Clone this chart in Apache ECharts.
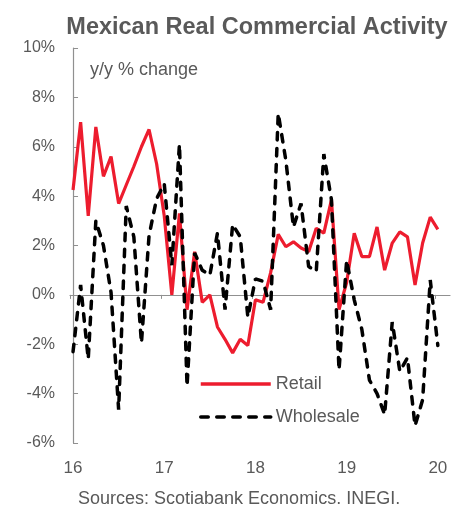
<!DOCTYPE html>
<html>
<head>
<meta charset="utf-8">
<script src="https://cdn.jsdelivr.net/npm/echarts@6/dist/echarts.min.js"></script>
<style>
  html, body { margin: 0; padding: 0; background: #fff; }
  #chart { width: 463px; height: 508px; }
</style>
</head>
<body>
<div id="chart"></div>
<script>
// Monthly y/y % change, Jan 2016 .. Jan 2020 (index 0 = Jan 2016)
const retail = [
  4.25, 7.0, 3.2, 6.8, 4.8, 5.6, 3.7, 4.45, 5.2, 6.0, 6.7, 5.3,
  3.2, 0.0, 3.3, -0.6, 1.75, -0.3, 0.0, -1.3, -1.8, -2.35, -1.8, -2.05,
  -0.2, -0.3, 0.9, 2.45, 1.95, 2.15, 1.9, 1.75, 2.7, 2.5, 3.85, -0.6,
  0.5, 2.5, 1.55, 1.55, 2.75, 1.0, 2.1, 2.55, 2.35, 0.4, 2.1, 3.15, 2.65
];
const wholesale = [
  -2.3, 0.4, -2.6, 3.0, 2.0, 0.1, -4.65, 3.6, 2.35, -1.95, 2.4, 3.9,
  4.5, 1.2, 6.1, -3.7, 1.7, 1.0, 0.8, 2.5, -0.6, 2.85, 2.35, -0.9,
  0.65, 0.55, -0.6, 7.35, 5.45, 2.75, 3.7, 1.15, 0.95, 5.7, 3.85, -3.05,
  1.4, -0.2, -1.4, -3.45, -4.0, -4.85, -1.1, -3.1, -2.55, -5.3, -4.25, 0.6, -2.05
];
const yearLabels = ['16', '17', '18', '19', '20'];
const yearLabelMonths = [0, 12, 24, 36, 48];
const yearTickMonths = [-0.4, 11.6, 23.6, 35.6, 47.6];

const toPairs = arr => arr.map((v, i) => [i, v]);

const textColor = '#595959';
const axisColor = '#909090';
const font = 'Liberation Sans, Arial, sans-serif';

const chart = echarts.init(document.getElementById('chart'), null, { renderer: 'canvas' });
chart.setOption({
  animation: false,
  backgroundColor: '#fff',
  title: {
    text: 'Mexican Real Commercial Activity',
    left: 252, top: 11, textAlign: 'center',
    textStyle: { fontFamily: font, fontWeight: 'bold', fontSize: 23.5, color: textColor }
  },
  grid: { left: 70, right: 13, top: 48, bottom: 65 },
  legend: {
    orient: 'vertical', left: 199, top: 375, padding: 0,
    itemWidth: 70, itemHeight: 14, itemGap: 15,
    itemStyle: { color: 'rgba(0,0,0,0)', borderWidth: 0 },
    lineStyle: { width: 3.5 },
    textStyle: { fontFamily: font, fontSize: 18, color: textColor },
    data: ['Retail', 'Wholesale']
  },
  xAxis: [
    {
      type: 'value', min: -0.4, max: 49.6,
      axisLine: { onZero: true, lineStyle: { color: axisColor, width: 1.2 } },
      axisTick: { show: true, length: 4, customValues: yearTickMonths, lineStyle: { color: axisColor } },
      axisLabel: { show: false },
      splitLine: { show: false }
    },
    {
      type: 'value', min: -0.4, max: 49.6, position: 'bottom',
      axisLine: { show: false, onZero: false },
      axisTick: { show: false },
      axisLabel: {
        show: true, margin: 17, customValues: yearLabelMonths,
        formatter: v => yearLabels[yearLabelMonths.indexOf(v)],
        fontFamily: font, fontSize: 17, color: textColor
      },
      splitLine: { show: false }
    }
  ],
  yAxis: {
    type: 'value', min: -6, max: 10, interval: 2,
    axisLine: { show: true, lineStyle: { color: axisColor, width: 1.2 } },
    axisTick: { show: true, inside: true, length: 5, lineStyle: { color: axisColor } },
    axisLabel: { margin: 15, formatter: v => v + '%', fontFamily: font, fontSize: 16, color: textColor },
    splitLine: { show: false }
  },
  graphic: [
    {
      type: 'text', left: 90, top: 61,
      style: { text: 'y/y % change', fontFamily: font, fontSize: 18, fill: textColor }
    },
    {
      type: 'text', left: 78, top: 490,
      style: { text: 'Sources: Scotiabank Economics. INEGI.', fontFamily: font, fontSize: 18, fill: textColor }
    }
  ],
  series: [
    {
      name: 'Retail', type: 'line', xAxisIndex: 0, data: toPairs(retail),
      symbol: 'none', z: 3,
      lineStyle: { color: '#ED1C2E', width: 3.2 },
      itemStyle: { color: '#ED1C2E' }
    },
    {
      name: 'Wholesale', type: 'line', xAxisIndex: 0, data: toPairs(wholesale),
      symbol: 'none', z: 4,
      lineStyle: { color: '#000', width: 3.5, type: [7.5, 8.5], cap: 'round' },
      itemStyle: { color: '#000' }
    }
  ]
});
</script>
</body>
</html>
